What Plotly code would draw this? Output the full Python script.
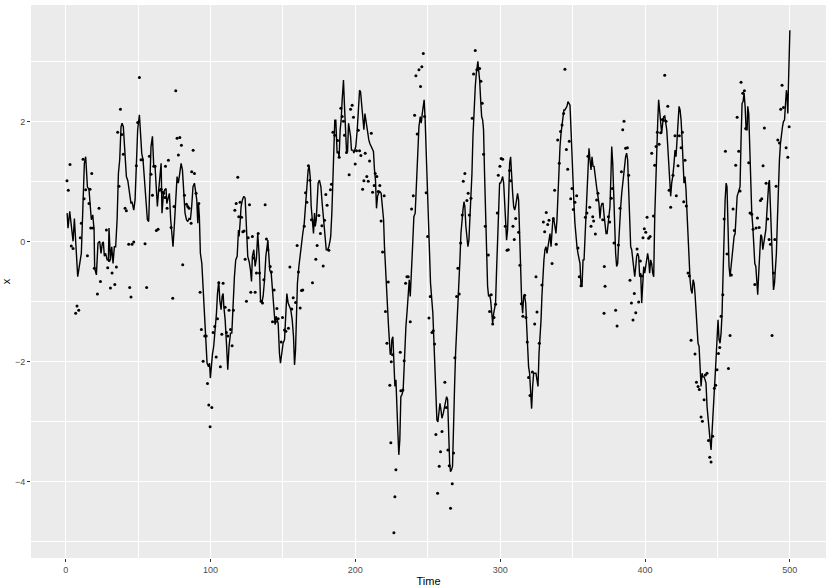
import plotly.graph_objects as go

# Smoothed state (line)
line_t = [1, 1.6, 2.8, 5.1, 6.0, 8.3, 10.8, 12.0, 12.9, 13.8, 15.0, 16.1, 17.0, 17.7, 18.7, 19.6, 20.0, 21.2, 22.3, 23.5,
          24.4, 25.3, 26.0, 26.7, 27.6, 28.6, 29.5, 29.9, 30.9, 31.8, 32.7, 33.6, 34.5, 35.5, 36.4, 37.3, 38.2, 38.9, 39.8, 40.8,
          41.9, 42.9, 44.0, 45.1, 45.8, 47.0, 47.9, 48.8, 49.7, 50.9, 51.6, 52.5, 53.4, 54.3, 55.5, 56.4, 57.3, 58.0, 58.9, 59.9,
          60.8, 61.7, 62.6, 63.3, 64.0, 64.9, 65.9, 66.5, 67.5, 68.4, 69.3, 69.8, 70.7, 71.6, 72.5, 73.5, 74.1, 75.1, 76.0, 76.9,
          77.8, 78.8, 79.7, 80.6, 81.5, 82.4, 83.4, 84.3, 85.2, 86.1, 87.0, 87.9, 88.9, 89.8,
          90.5, 91.2, 91.7, 92.3, 93.0, 94.0, 94.9, 95.8, 96.7, 97.6, 98.6, 99.3, 99.9, 100.6, 101.3, 102.2, 103.2, 104.1, 104.8, 105.7,
          106.4, 107.3, 108.0, 108.7, 109.2, 110.1, 111.0, 111.9, 112.8, 113.8, 114.7, 115.6, 116.5, 117.4, 118.4, 119.3, 119.7, 120.4, 121.1, 122.0,
          123.0, 123.9, 124.8, 125.7, 126.7, 127.6, 128.3, 128.9, 129.9, 130.8, 131.7, 132.6, 133.6, 134.5, 135.4, 136.3, 137.3, 138.2,
          139.6, 140.2, 140.9, 141.9, 142.8, 143.7, 144.6, 145.3, 146.0, 146.7, 147.6, 148.3, 149.2, 150.1, 151.1, 151.8, 152.7, 153.6, 154.5, 155.4,
          156.4, 157.3, 158.0, 158.7, 159.4, 160.0, 161.0, 161.9, 162.8, 163.7, 164.7, 165.3, 166.0, 166.7, 167.4, 168.1, 168.8, 169.5, 170.4, 171.1,
          171.8, 172.3, 173.0, 173.6, 174.3, 175.2, 176.2, 177.1, 178.0, 178.9, 179.9, 180.8, 181.7, 182.6, 183.0, 183.8, 184.5,
          185.1, 185.8, 186.5, 187.0, 187.4, 188.1, 188.8, 189.5, 190.2, 190.9, 191.8, 192.5, 193.2, 193.9, 194.6, 195.3, 196.0, 196.7, 197.3, 198.3,
          199.0, 199.6, 200.3, 201.3, 202.2, 202.9, 203.6, 204.3, 205.2, 205.9, 206.6, 207.2, 207.9, 208.6, 209.3, 210.0, 211.0, 211.9, 212.5, 213.2,
          213.9, 214.6, 215.3, 216.0, 216.9, 217.8, 218.8, 219.5, 220.1, 220.8, 221.5, 222.2, 222.9, 223.4, 224.1, 224.7, 225.2, 225.9, 226.6, 227.3,
          228.0, 228.7, 229.4, 230.0, 230.7, 231.4, 232.1,
          233.0, 234.0, 234.9, 235.8, 236.7, 237.2, 237.9, 238.6, 239.5, 240.4, 241.3, 242.3, 243.2, 243.9, 244.8, 245.5, 246.2, 246.9, 247.5, 248.2,
          248.9, 249.6, 250.3, 251.2, 251.9, 252.8, 253.5, 254.2, 254.9, 255.6, 256.3, 257.0, 257.7, 258.4, 259.1, 259.8, 260.7, 261.6, 262.3, 263.0,
          263.7, 264.4, 265.1, 265.7, 266.4, 267.1, 267.8, 268.5, 269.2, 269.9, 270.8, 271.5, 272.2, 272.9, 273.6, 274.3, 275.0, 275.6, 276.3, 277.0, 277.7,
          278.4, 279.1, 279.8, 280.5, 281.2, 281.9, 282.8, 283.5, 284.2, 284.6, 285.1, 285.8, 286.5, 287.2, 287.9, 288.5, 289.2, 289.9, 290.6, 291.3,
          292.0, 292.7, 293.4, 294.1, 294.8, 295.5, 296.1, 296.8, 297.5, 298.2, 298.9, 299.6, 300.3, 301.0, 301.7, 302.4, 303.0, 303.7, 304.4, 305.1,
          305.8, 306.5, 307.2, 307.9, 308.6, 309.3, 310.0, 310.6, 311.3, 312.0, 312.7, 313.4, 314.1, 314.8, 315.5, 316.2, 316.9, 317.6, 318.3, 318.9,
          319.6, 320.3, 321.0, 321.7, 322.4, 323.1, 323.8, 324.7, 325.4, 326.1,
          326.8, 327.5, 328.2, 328.8, 329.5, 330.2, 330.9, 331.6, 332.3, 333.0, 333.7, 334.4, 335.1, 335.7, 336.4, 337.1, 337.8, 338.5, 339.2, 339.9,
          340.6, 341.3, 342.0, 342.7, 343.4, 344.0, 344.7, 345.4, 346.1, 346.8, 347.5, 348.2, 348.9, 349.6, 350.3, 351.0, 351.6, 352.3, 353.0, 353.7,
          354.4, 355.1, 355.8, 356.5, 357.2, 357.9, 358.6, 359.2, 359.9, 360.6, 361.3, 362.0, 362.7, 363.4, 364.1, 364.8, 365.5, 366.2, 366.8, 367.5,
          368.2, 368.9, 369.6, 370.3, 371.0, 371.7,
          372.4, 373.1, 373.8, 374.4, 375.1, 375.8, 376.5, 377.0, 377.7, 378.4, 379.0, 379.7, 380.4, 381.1, 381.8, 382.5, 383.2, 383.9, 384.6, 385.3,
          386.0, 386.6, 387.3, 388.0, 388.7, 389.4, 390.1, 390.8, 391.5, 392.2, 392.9, 393.6, 394.2, 394.9, 395.6, 396.3, 397.0, 397.7, 398.4, 399.1,
          399.8, 400.5, 401.2, 401.8, 402.5, 403.2, 403.9, 404.6, 405.3, 406.0, 406.7, 407.4, 408.1, 408.8, 409.4, 410.1, 410.8, 411.5, 412.2, 412.9,
          413.6, 414.3, 415.0, 415.7, 416.4, 417.0, 417.7, 418.4,
          419.2, 420.0, 420.7, 421.4, 422.1, 422.8, 423.5, 424.2, 424.9, 425.6, 426.3, 426.9, 427.6, 428.3, 429.0, 429.7, 430.4, 431.1, 431.8, 432.5,
          433.2, 433.9, 434.5, 435.2, 435.9, 436.6, 437.3, 438.0, 438.7, 439.4, 440.1, 440.8, 441.5, 442.1, 442.8, 443.5, 444.2, 444.9, 445.6, 446.3,
          447.0, 447.7, 448.4, 449.0, 449.7, 450.4, 451.1, 451.8, 452.5, 453.2, 453.9, 454.6, 455.3, 456.0, 456.6, 457.3, 458.0, 458.7, 459.4, 460.1,
          460.8, 461.5, 462.2, 462.9, 463.6, 464.2, 464.9, 465.6, 466.3, 467.0,
          467.7, 468.4, 469.1, 469.8, 470.5, 470.9, 471.6, 472.3, 473.0, 473.7, 474.4, 475.1, 475.8, 476.5, 477.1, 477.8, 478.5, 479.2, 479.9, 480.6,
          481.3, 482.0, 482.7, 483.4, 484.1, 484.7, 485.4, 485.9, 486.6, 487.3, 488.0, 488.7, 489.4, 490.0, 490.7, 491.4, 492.1, 492.8, 493.5, 494.2,
          494.9, 495.6, 496.3, 496.9, 497.6, 498.1, 498.6, 499.0, 499.5, 500.0]
line_x = [0.48, 0.23, 0.51, 0.01, 0.39, -0.58, -0.19, 0.70, 1.31, 1.42, 0.92, 0.87, 0.59, 0.37, 0.45, 0.2, -0.44, -0.55, -0.02, 0.01,
          -0.19, -0.02, 0.0, -0.24, -0.19, -0.3, -0.3, 0.23, -0.3, -0.08, -0.36, -0.08, -0.08, 0.37, 1.14, 1.37, 1.92, 1.98, 1.92, 1.48,
          1.09, 1.02, 0.8, 0.64, 0.67, 0.53, 0.7, 1.26, 1.87, 2.12, 1.81, 1.48, 1.37, 1.09, 0.59, 0.37, 0.34, 0.92, 1.59, 1.76,
          1.26, 1.26, 0.92, 0.59, 0.81, 1.03, 1.31, 0.48, 0.81, 0.87, 0.89, 0.64, 0.76, 0.81, 0.37, 0.14, -0.08, 0.31, 0.81, 1.09,
          0.98, 1.14, 1.31, 1.2, 0.81, 0.48, 0.37, 0.34, 0.39, 0.37, 0.59, 0.92, 0.98, 0.85,
          0.70, 0.31, 0.64, 0.42, -0.19, -0.36, -0.74, -1.19, -1.63, -2.02, -2.08, -2.02, -2.27, -2.02, -1.88, -1.74, -1.47, -1.19, -0.86, -0.66,
          -0.97, -1.13, -0.91, -0.86, -1.08, -1.3, -1.69, -2.13, -1.74, -1.52, -1.52, -0.91, -0.58, -0.3, -0.24, 0.2, 0.09, 0.31, 0.59, 0.70,
          0.76, 0.73, 0.26, -0.24, -0.33, -0.47, -0.66, -0.24, -0.13, -0.41, -0.27, 0.14, -0.24, -0.97, -1.02, -0.91, -0.63, -0.24,
          0.03, -0.19, -0.47, -0.52, -0.86, -1.19, -1.38, -1.24, -1.3, -1.36, -1.86, -2.02, -1.86, -1.69, -1.63, -1.3, -0.86, -1.02, -1.08, -1.13,
          -1.3, -1.58, -2.05, -1.8, -1.19, -0.69, -0.41, -0.19, 0.03, 0.14, 0.31, 0.53, 0.81, 0.92, 1.2, 1.26, 1.09, 0.59, 0.31, 0.14,
          0.48, 0.26, 0.37, 0.7, 0.98, 1.03, 0.92, 0.64, 0.37, 0.09, -0.13, -0.13, -0.08, 0.03, 0.1, 0.5, 1.1,
          1.81, 2.03, 2.03, 1.76, 1.48, 1.51, 1.42, 1.87, 2.03, 2.37, 2.7, 2.26, 1.87, 1.51, 1.51, 1.98, 1.87, 1.76, 1.53, 1.53,
          1.48, 1.53, 1.59, 1.87, 2.31, 2.53, 2.5, 2.26, 2.03, 1.87, 2.14, 2.03, 1.87, 1.81, 1.7, 1.64, 1.59, 1.56, 1.51, 1.2,
          1.03, 0.56, 0.76, 0.81, 0.84, 0.81, 0.53, 0.37, -0.08, -0.52, -0.86, -1.08, -1.41, -1.74, -1.88, -1.86, -1.63, -1.58, -2.13, -2.41,
          -2.3, -2.63, -3.2, -3.55, -3.3, -2.58, -2.55,
          -2.47, -1.86, -1.41, -1.13, -0.74, -0.63, -0.91, -0.41, -0.08, 0.42, 0.48, 1.03, 1.48, 1.92, 2.09, 1.98, 2.14, 2.31, 2.37, 2.03,
          1.53, 0.81, 0.26, -0.3, -0.69, -0.97, -1.19, -1.63, -2.19, -2.63, -2.97, -3.0, -2.86, -2.69, -2.8, -2.94, -2.86, -2.74, -2.69, -2.58,
          -2.63, -3.24, -3.69, -3.83, -3.8, -3.74, -3.24, -2.41, -1.86, -1.52, -1.13, -0.74, -0.3, 0.14, 0.42, 0.53, 0.67, 0.59, 0.26, 0.09, -0.08,
          0.03, 0.37, 0.7, 1.14, 1.76, 2.26, 2.59, 2.81, 2.92, 3.01, 2.87, 2.7, 2.37, 2.09, 2.03, 1.87, 1.14, 0.37, -0.36, -0.74,
          -0.91, -0.88, -0.97, -1.19, -1.36, -1.19, -1.13, -1.02, -0.47, 0.09, 0.59, 0.98, 0.98, 1.03, 1.09, 0.98, 0.76, 0.37, 0.03, 0.2,
          0.7, 1.31, 1.42, 1.03, 0.81, 0.59, 0.53, 0.59, 0.7, 0.81, 0.7, 0.14, -0.52, -0.97, -1.19, -0.91, -0.91, -1.02, -1.41, -1.74,
          -2.08, -2.19, -2.52, -2.78, -2.41, -2.19, -2.19, -2.19, -2.3, -2.41,
          -1.86, -1.63, -1.3, -0.91, -0.52, -0.3, -0.13, -0.08, -0.19, -0.08, -0.02, 0.14, -0.08, 0.26, 0.39, 0.37, 0.26, 0.14, 0.37, 0.81,
          1.31, 1.59, 1.81, 1.92, 2.09, 2.2, 2.2, 2.23, 2.26, 2.34, 2.31, 2.28, 1.87, 1.37, 0.92, 0.59, 0.31, 0.03, -0.08, -0.19,
          -0.3, -0.36, -0.74, -0.74, -0.3, -0.3, 0.09, 0.48, 0.87, 1.37, 1.56, 1.37, 1.2, 1.42, 1.26, 1.26, 1.09, 1.03, 0.87, 0.76,
          0.64, 0.39, 0.59, 0.64, 0.64, 0.45,
          0.31, 0.14, 0.14, 0.31, 0.37, 0.59, 1.14, 1.59, 1.31, 0.7, 0.14, -0.19, -0.41, -0.36, -0.02, 0.42, 0.59, 0.81, 0.98, 1.14,
          1.31, 1.42, 1.48, 1.37, 0.87, 0.37, -0.08, -0.13, -0.3, -0.47, -0.58, -0.41, -0.24, -0.19, -0.24, -0.58, -0.52, -1.02, -0.69, -0.41,
          -0.52, -0.41, -0.24, -0.19, -0.3, -0.52, -0.3, -0.36, -0.52, -0.58, 0.42, 1.09, 1.64, 2.03, 2.37, 2.14, 1.92, 1.81, 1.98, 2.09,
          2.1, 1.98, 1.87, 1.59, 1.2, 0.87, 0.76, 0.98,
          1.1, 1.3, 1.53, 1.42, 1.7, 2.03, 2.26, 2.2, 2.03, 1.7, 1.26, 0.98, 1.09, 0.87, 0.48, 0.03, -0.41, -0.63, -0.8, -0.86,
          -0.63, -0.69, -0.86, -1.19, -1.52, -1.69, -1.74, -2.19, -2.41, -2.19, -2.25, -2.25, -2.3, -2.35, -2.74, -2.97, -3.13, -3.3, -3.47, -3.19,
          -2.86, -2.47, -2.3, -1.97, -1.63, -1.3, -1.63, -1.69, -1.52, -1.19, -0.52, 0.26, 0.7, 0.98, 0.92, 0.26, -0.41, -0.58, -0.41, -0.24,
          -0.08, 0.09, 0.14, 0.48, 0.76, 0.81, 0.87, 0.92, 1.7, 2.31,
          2.34, 2.48, 2.26, 1.87, 1.87, 2.26, 2.14, 1.53, 0.76, 0.48, 0.26, -0.08, -0.36, -0.41, -0.74, -0.88, -0.52, -0.19, 0.12, 0.09,
          -0.13, -0.02, 0.14, 0.2, 0.48, 0.81, 0.98, 1.03, 0.48, -0.08, -0.52, -0.8, -0.69, -0.52, -0.19, 0.37, 1.03, 1.37, 1.64, 1.81,
          1.92, 2.01, 2.03, 2.26, 2.53, 2.42, 2.14, 2.59, 3.14, 3.53]

# Observations (points)
obs_t = [0.9, 1.8, 3.0, 3.9, 5.1, 6.9, 7.8, 9.0, 10.1, 10.8, 12.0, 12.7, 13.8, 15.0, 16.1, 16.8, 17.3, 18.0, 18.9, 19.8,
         21.9, 23.0, 24.0, 28.1, 29.0, 30.0, 30.9, 32.0, 33.9, 35.0, 35.9, 36.8, 37.8, 38.7, 39.8, 41.0, 41.9,
         43.5, 44.2, 45.1, 45.8, 47.0, 48.8, 49.7, 50.9, 52.0, 53.0, 54.8, 55.9, 57.8, 58.9, 59.9, 60.8, 61.7, 62.6, 63.8, 64.9,
         65.9, 66.8, 67.7, 68.6, 68.9, 70.0, 70.9, 72.8, 73.9, 74.8, 76.0, 76.9, 77.8, 78.8, 79.9, 80.8, 82.0, 83.4, 84.3, 85.2,
         86.6, 87.0, 88.0, 88.9, 90.0,
         91.9, 92.8, 93.7, 94.9, 96.0, 97.0, 97.9, 98.8, 99.7, 100.9, 101.8, 102.9, 103.9, 104.8, 105.7, 106.8, 107.8, 108.7, 110.1, 111.0,
         111.9, 112.8, 113.8, 114.9, 115.8, 116.8, 117.7, 118.8, 119.5, 120.4, 121.4, 122.3, 123.2, 123.9, 124.8, 126.0, 126.9, 127.8, 128.9, 129.9,
         130.8, 131.7, 132.9, 133.8, 134.9, 135.9, 136.8, 137.7,
         138.6, 139.6, 141.2, 142.0, 142.8, 143.9, 144.8, 145.8, 146.7, 148.8, 149.7, 151.1, 152.0, 153.8, 154.8, 156.1, 157.1, 158.7, 159.8, 160.7,
         161.9, 162.8, 163.7, 164.7, 165.6, 166.5, 167.6, 168.6, 169.7, 170.4, 171.3, 172.0, 172.7, 173.6, 174.8, 175.9, 176.9, 177.8, 178.7, 179.6,
         180.5, 181.7, 182.8, 183.5, 184.5,
         185.8, 187.7, 188.8, 190.0, 190.9, 191.8, 192.5, 193.9, 195.7, 196.7, 197.8, 198.7, 199.9, 200.8, 202.0, 202.9, 203.8, 205.0, 205.9, 206.8,
         207.9, 208.9, 209.8, 211.0, 211.9, 213.0, 213.7, 214.8, 215.8, 216.9, 217.8, 218.8, 219.9, 220.8, 221.8, 222.7, 223.8, 224.5, 224.8, 225.7,
         226.6, 227.3, 228.0, 231.0, 231.4,
         232.8, 233.7, 234.7, 235.6, 236.5, 237.9, 238.8, 240.0, 240.9, 241.8, 242.7, 243.9, 245.0, 245.9, 246.9, 247.8, 248.9, 249.9, 250.8, 251.7,
         252.9, 253.8, 254.7, 255.6, 256.8, 257.9, 258.8, 259.8, 261.8, 262.8, 263.9, 264.8, 265.7, 266.9, 267.8, 268.7, 269.9, 270.8, 271.7, 272.7,
         273.8, 274.5, 275.6, 277.0, 277.9, 278.7,
         279.8, 280.7, 281.6, 282.8, 283.9, 285.8, 286.7, 287.6, 288.5, 289.7, 291.8, 292.7, 293.8, 294.8, 295.7, 296.8, 298.0, 298.7, 299.8, 300.7,
         301.7, 303.5, 304.7, 305.6, 306.5, 307.2, 308.8, 309.7, 310.7, 312.7, 313.6, 314.6, 315.7, 316.9, 317.8, 318.7, 319.6, 320.6, 322.2, 323.8,
         324.7, 325.4,
         327.0, 328.8, 329.8, 330.7, 331.8, 332.8, 333.7, 335.8, 336.7, 337.6, 338.7, 339.7, 340.8, 341.7, 342.7, 343.8, 344.7, 345.7, 346.6, 347.7,
         348.7, 349.6, 350.5, 351.6, 352.8, 353.7, 354.6, 355.8, 358.8, 359.9, 360.6, 361.8, 362.7, 363.9, 364.5, 365.7, 366.6, 367.5, 370.8, 371.7,
         371.9, 372.4,
         374.7, 375.6, 376.7, 377.4, 378.6, 379.7, 380.7, 381.6, 382.7, 383.7, 384.6, 385.5, 386.6, 387.8, 388.7, 389.6, 390.6, 391.7, 392.6, 393.6,
         394.5, 395.6, 396.8, 397.7, 398.6, 399.5, 400.5, 401.4, 402.5, 403.5, 404.6, 405.8, 406.7, 407.6, 408.5, 409.7, 410.8, 412.0, 412.7, 413.6,
         414.5, 415.7, 416.6, 417.7,
         419.3, 420.7, 421.6, 422.8, 423.7, 424.9, 425.8, 426.7, 427.6, 428.5, 429.7, 430.6, 431.8, 434.5, 435.5, 436.6, 437.5, 438.7, 439.6, 440.8,
         441.7, 442.8, 443.8, 444.7, 445.6, 446.7, 447.9, 448.8, 449.7, 450.7, 451.6, 452.5, 453.7, 454.6, 455.5, 456.6, 457.6, 458.7, 459.6, 460.8,
         461.7, 462.6, 463.6, 464.7, 465.6, 466.3,
         467.5, 468.6, 469.5, 471.6, 472.5, 473.7, 474.6, 475.8, 476.7, 477.6, 478.8, 479.7, 480.6, 481.5, 482.4, 483.6, 484.7, 485.7, 486.6, 487.7,
         488.7, 489.6, 490.5, 491.7, 492.8, 493.7, 494.6, 495.6, 497.4, 498.6, 499.5]
obs_x = [1.02, 0.86, 1.29, -0.07, -0.11, -1.19, -1.07, -1.14, 0.07, 0.31, 1.38, 0.72, 0.87, -0.23, 0.64, 0.88, 0.23, 1.14, 0.23, -0.44,
         -0.87, 0.56, -0.66, 0.2, -0.43, -0.31, -0.77, -0.52, -0.71, -0.42, 1.83, 0.93, 2.21, 1.79, 1.46, 0.56, 0.52,
         -0.04, -0.76, -0.92, -0.04, 0.0, 1.27, 1.99, 2.74, 1.37, 1.37, -0.03, -0.76, 1.43, 1.13, 0.78, 1.26, 1.26, 0.19, 0.21, 0.86,
         0.88, 0.83, 0.81, 0.74, 1.26, 0.56, 1.36, 0.24, -0.94, 0.59, 2.52, 1.73, 1.45, 1.74, 1.61, -0.38, 0.78, 0.63, 0.59, 0.56,
         0.31, 1.17, 1.53, 1.14, 0.81,
         0.64, -0.84, -1.46, -1.99, -1.57, -1.57, -2.36, -2.72, -3.08, -2.76, -1.51, -1.41, -1.92, -1.28, -0.68, -2.08, -1.54, -0.69, -1.09, -1.51,
         -1.57, -1.14, -1.46, -1.73, -1.14, 0.53, 0.64, 1.08, 0.42, 0.66, 0.41, 0.17, 0.18, -0.29, -0.99, 0.07, 0.62, -0.84, 0.09, -0.27,
         -0.84, -0.52, 0.14, -0.52, -0.99, -1.02, -0.63, 0.62,
         0.05, -0.13, -0.41, -0.5, -1.33, -0.8, -1.33, -1.11, -1.28, -1.67, -1.26, -1.47, -1.49, -1.44, -0.42, -1.12, -0.93, -1.01, -0.06, -0.5,
         -1.1, -0.81, -0.8, 0.26, 0.82, 0.66, 1.27, 1.03, 0.37, -0.68, 0.32, 0.36, -0.29, -0.06, 0.44, 0.14, 0.27, -0.4, 0.36, 0.79,
         0.61, -0.14, 0.87, 0.96, 1.83,
         1.78, 1.69, 1.41, 2.23, 2.09, 2.01, 1.78, 1.49, 1.12, 2.21, 2.28, 2.08, 1.3, 1.52, 1.86, 1.52, 1.44, 0.88, 1.02, 1.48,
         1.09, 1.01, 1.35, 1.81, 0.83, 0.94, 1.14, 1.09, 0.84, 0.94, 0.35, -0.17, 0.77, -1.16, -1.69, -0.67, -2.39, -3.35, -2.0, -1.88,
         -4.85, -4.25, -3.8, -1.84, -2.48,
         -2.47, -1.98, -0.69, -0.58, -0.58, -1.33, 0.55, 0.77, 2.11, 2.77, 1.8, 2.87, 2.59, 2.92, 3.14, 2.09, 0.82, 0.09, -1.27, -0.91,
         -1.51, -1.48, -1.7, -3.21, -4.19, -3.74, -3.5, -3.16, -2.34, -2.76, -3.47, -3.73, -4.44, -4.03, -3.52, -1.93, -0.91, -0.44, -0.87, -0.02,
         0.45, 1.01, 1.14, 0.69, 0.81, 0.45,
         0.73, 2.06, 2.8, 3.19, 2.87, 2.89, 2.68, 2.31, 1.46, 0.26, -0.22, -1.16, -0.88, -1.37, -1.26, -1.04, 0.48, 1.11, 1.26, 1.39,
         1.38, 0.26, -0.14, -0.13, 1.19, 1.02, 0.26, 0.04, 0.39, 0.16, -0.39, -1.03, -1.24, -0.89, -1.26, -1.67, -2.26, -2.56, -2.17, -1.37,
         -0.58, -1.17,
         -1.69, -0.72, 0.33, 0.17, 0.49, 0.29, 0.36, -0.36, 0.39, 0.86, -0.04, 1.7, 1.31, 1.84, 1.95, 2.14, 2.88, 1.54, 1.21, 1.68,
         0.72, 0.89, 0.54, 0.66, 0.77, -0.1, -0.58, -0.73, 0.41, 0.48, 1.43, 0.58, 0.26, 0.42, 0.35, 0.13, 0.7, 0.81, 0.37, -1.19,
         -0.41, -0.74,
         0.42, 0.33, 0.73, 0.89, -0.02, -1.14, -1.4, -0.05, 0.56, 1.17, 1.87, 2.01, 1.56, 1.57, 1.11, -0.64, -1.02, -1.3, -0.86, -1.18,
         -0.12, -1.0, -0.32, -0.57, 0.07, 0.22, 0.16, 0.41, 0.06, 0.09, 1.48, 0.43, 1.28, 1.59, 1.83, 1.63, 1.82, 2.04, 2.03, 2.78,
         2.01, 2.26, 0.86, 0.58,
         1.11, 1.77, 0.77, 1.27, 1.77, 1.57, 1.83, 0.67, 1.36, 0.6, -0.52, -0.57, -1.64, -1.87, -2.34, -2.41, -2.46, -2.92, -2.99, -2.63,
         -2.22, -2.19, -3.31, -3.59, -3.67, -3.24, -2.44, -2.39, -2.13, -1.86, -1.76, -1.24, -0.88, 0.38, 1.51, -0.2, -2.11, -1.56, -0.55, 0.55,
         0.19, 1.28, 2.08, 1.51, 0.85, 2.66,
         2.48, 2.52, 1.89, 1.32, 0.48, 0.46, 0.21, -0.71, 0.23, 0.4, 0.24, 0.69, 0.72, 1.27, 1.9, 0.98, 0.38, 0.04, -0.04, -1.56,
         -0.52, 0.04, 0.93, 1.7, 1.65, 2.21, 2.61, 2.24, 1.57, 1.41, 1.92]

x_ticks = [0, 100, 200, 300, 400, 500]
y_ticks = [-4, -2, 0, 2]

fig = go.Figure()
fig.add_trace(go.Scatter(x=obs_t, y=obs_x, mode="markers",
                         marker=dict(color="black", size=3), hoverinfo="skip"))
fig.add_trace(go.Scatter(x=line_t, y=line_x, mode="lines",
                         line=dict(color="black", width=1.4), hoverinfo="skip"))

axis_common = dict(
    showline=False, zeroline=False, automargin=False,
    gridcolor="white", gridwidth=1.1,
    ticks="outside", ticklen=3, tickwidth=1, tickcolor="#333333",
    tickfont=dict(family="Liberation Sans, Arial, sans-serif", size=9, color="#4D4D4D"),
)

fig.update_layout(
    width=830, height=588,
    margin=dict(l=31, r=4, t=5, b=30),
    paper_bgcolor="white",
    plot_bgcolor="#EBEBEB",
    showlegend=False,
    hovermode=False,
    font=dict(family="Liberation Sans, Arial, sans-serif", color="black"),
    xaxis=dict(range=[-23.95, 524.95], tickvals=x_ticks,
               minor=dict(dtick=50, tick0=0, showgrid=True, gridcolor="white", gridwidth=0.55, ticks=""),
               title=dict(text="Time", font=dict(size=11), standoff=3),
               **axis_common),
    yaxis=dict(range=[-5.27, 3.95], tickvals=y_ticks,
               minor=dict(dtick=1, tick0=0, showgrid=True, gridcolor="white", gridwidth=0.55, ticks=""),
               title=dict(text="x", font=dict(size=11), standoff=4),
               **axis_common),
)

fig.write_html("out.html",
               config={"displayModeBar": False},
               post_script="document.body.style.margin='0';document.body.style.padding='0';")
